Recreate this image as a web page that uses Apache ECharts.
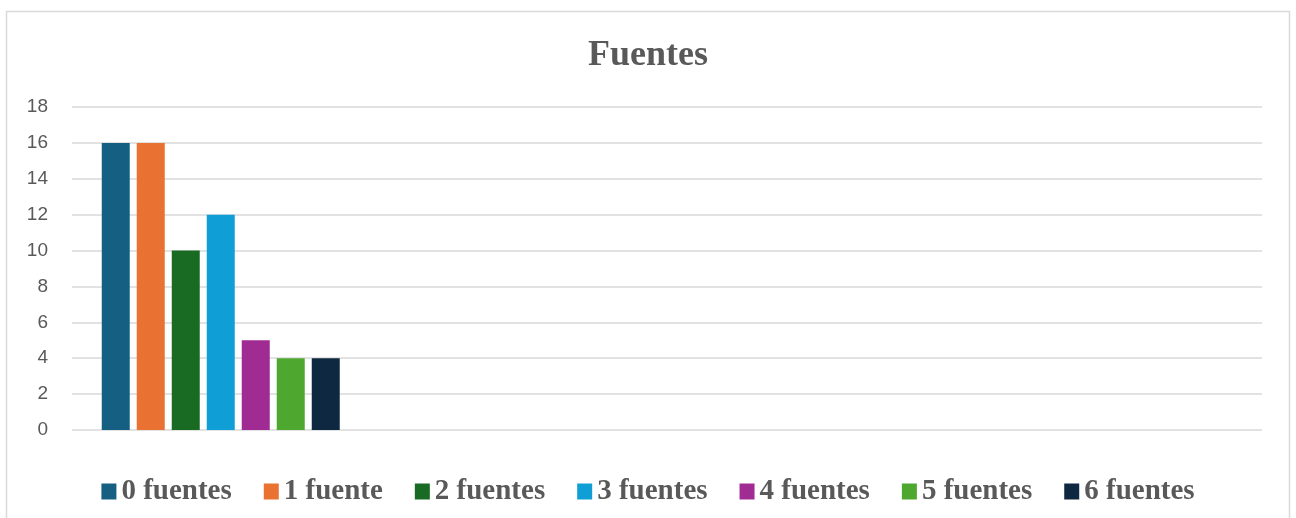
<!DOCTYPE html>
<html>
<head>
<meta charset="utf-8">
<script src="https://cdn.jsdelivr.net/npm/echarts@6/dist/echarts.min.js"></script>
<style>
html,body{margin:0;padding:0;background:#fff;}
#c{width:1296px;height:518px;}
</style>
</head>
<body>
<div id="c"></div>
<script>
const titleText = 'Fuentes';
const categories = ['', '', '', ''];
const seriesNames = ['0 fuentes', '1 fuente', '2 fuentes', '3 fuentes', '4 fuentes', '5 fuentes', '6 fuentes'];
const seriesValues = [16, 16, 10, 12, 5, 4, 4];
const colors = ['#156082', '#E97132', '#196B24', '#0F9ED5', '#A02B93', '#4EA72E', '#0E2841'];
const yTicks = [0, 2, 4, 6, 8, 10, 12, 14, 16, 18];

const chart = echarts.init(document.getElementById('c'));
const series = seriesNames.map((name, i) => ({
  name: name,
  type: 'bar',
  data: categories.map((c, j) => j === 0 ? seriesValues[i] : null),
  itemStyle: { color: colors[i] },
  barGap: '25%',
  barCategoryGap: '20%'
}));

chart.setOption({
  animation: false,
  color: colors,
  graphic: [{
    type: 'rect',
    shape: { x: 6.5, y: 11.5, width: 1283, height: 530 },
    style: { fill: 'none', stroke: '#d9d9d9', lineWidth: 1.5 },
    silent: true
  }],
  title: {
    text: titleText,
    left: 'center',
    top: 33,
    textStyle: { fontFamily: 'Liberation Serif', fontWeight: 'bold', fontSize: 36, color: '#595959' }
  },
  legend: {
    data: seriesNames,
    left: 'center',
    top: 472,
    itemWidth: 15,
    itemHeight: 16,
    itemGap: 32,
    icon: 'rect',
    textStyle: { fontFamily: 'Liberation Serif', fontWeight: 'bold', fontSize: 29, color: '#595959' }
  },
  grid: { left: 72, right: 34, top: 107, bottom: 88, containLabel: false },
  xAxis: {
    type: 'category',
    data: categories,
    axisLine: { show: false },
    axisTick: { show: false },
    axisLabel: { show: false }
  },
  yAxis: {
    type: 'value',
    min: yTicks[0],
    max: yTicks[yTicks.length - 1],
    interval: 2,
    axisLine: { show: false },
    axisTick: { show: false },
    axisLabel: { fontFamily: 'Liberation Sans', fontSize: 19, color: '#595959', margin: 24 },
    splitLine: { lineStyle: { color: '#d9d9d9', width: 1.5 } }
  },
  series: series
});
</script>
</body>
</html>
